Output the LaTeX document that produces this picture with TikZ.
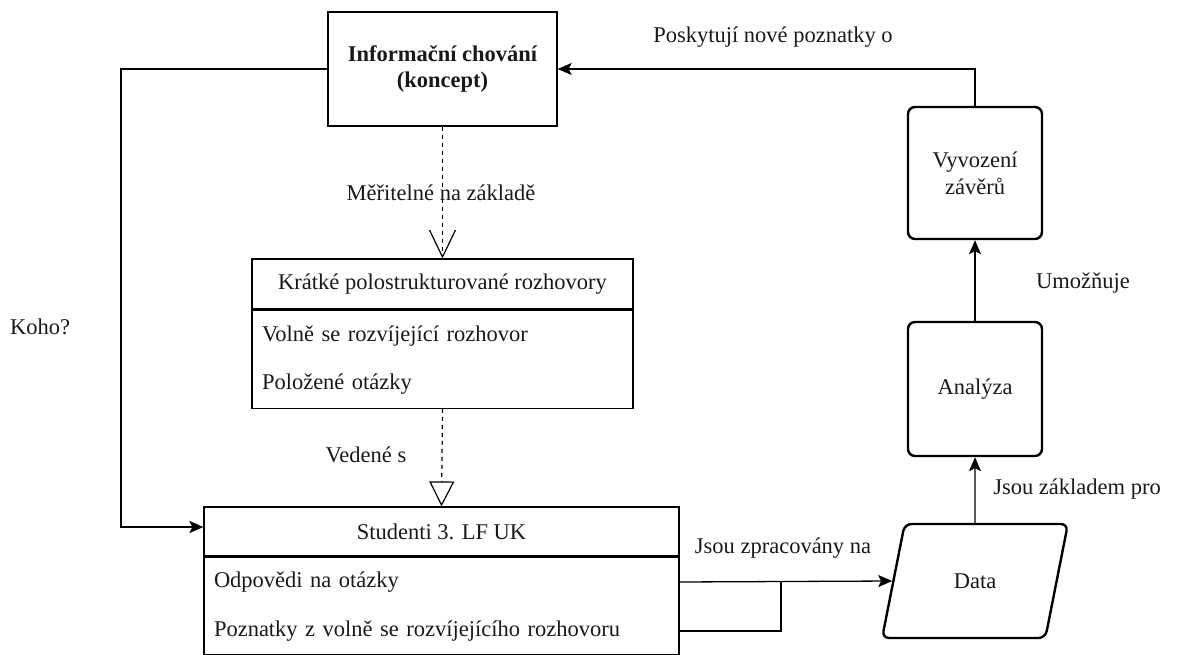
\documentclass[tikz,border=0pt]{standalone}
\usepackage{fontspec}
\setmainfont{LiberationSerif}[Extension=.ttf, UprightFont=*-Regular, BoldFont=*-Bold, ItalicFont=*-Italic, BoldItalicFont=*-BoldItalic]
\usetikzlibrary{arrows.meta,shapes.geometric}
\begin{document}
\begin{tikzpicture}[x=1pt,y=-1pt,
        every node/.style={font=\fontsize{22.5}{27}\selectfont, text=black!90},
        box/.style={draw, line width=1.3pt, minimum width=229pt, minimum height=114pt, align=center},
        rbox/.style={draw, line width=2.4pt, rounded corners=7pt, minimum width=134pt, minimum height=132pt, align=center},
        head/.style={draw, line width=1.2pt},
        row/.style={inner xsep=10pt, inner ysep=0pt, align=left},
        arr/.style={line width=1.3pt, -{Stealth[length=14pt,width=12pt,inset=3pt]}},
        dashedline/.style={line width=1.2pt, dash pattern=on 4pt off 4pt}]
        \useasboundingbox (0,0) rectangle (1177,655);

        % boxes
        \node[box, font=\fontsize{22.5}{26}\selectfont\bfseries] (koncept) at (442.5,69) {Informační chování\\(koncept)};
        \node[rbox] (zavery) at (975,173) {Vyvození\\závěrů};
        \node[rbox, minimum height=134pt] (analyza) at (975,389) {Analýza};
        \node[draw, line width=2.4pt, trapezium, trapezium left angle=70, trapezium right angle=110,
              trapezium stretches=true, minimum width=186pt, minimum height=114pt, rounded corners=7pt] (data) at (975,581) {Data};

        \node[head, minimum width=381pt, minimum height=50pt] (rozhovory) at (442.5,284) {Krátké polostrukturované rozhovory};
        \node[head, minimum width=381pt, minimum height=98pt, anchor=north] (rozhovoryTelo) at (rozhovory.south) {};
        \node[row, text width=361pt] (volne) at (442.5,336) {Volně se rozvíjející rozhovor};
        \node[row, text width=361pt] (otazky) at (442.5,384) {Položené otázky};

        \node[head, minimum width=475pt, minimum height=49pt] (studenti) at (441.5,531.5) {Studenti 3. LF UK};
        \node[head, minimum width=475pt, minimum height=97pt, anchor=north] (studentiTelo) at (studenti.south) {};
        \node[row, text width=455pt] (odpovedi) at (441.5,582) {Odpovědi na otázky};
        \node[row, text width=455pt] (poznatky) at (441.5,631) {Poznatky z volně se rozvíjejícího rozhovoru};

        % connectors
        \coordinate (roh) at (121,69);
        \draw[arr] (koncept.west) -- (roh) |- ([yshift=4.5pt]studenti.west);
        \node (koho) at (40,327) {Koho?};

        \draw[dashedline, -{Straight Barb[length=27pt,width=26pt]}] (koncept.south) -- (rozhovory.north);
        \node (meritelne) at (441,193) {Měřitelné na základě};

        \draw[dashedline, -{Triangle[open,length=25pt,width=25pt]}] (rozhovoryTelo.south) -- (studenti.north);
        \node (vedene) at (366,455) {Vedené s};

        \coordinate (spoj) at (781,582);
        \draw[line width=1.3pt] (poznatky.east) -| (spoj);
        \draw[arr] (odpovedi.east) -- (data.west);
        \node (zpracovany) at (783,548) {Jsou zpracovány na};

        \draw[arr] (data.north) -- (analyza.south);
        \node (zakladem) at (1077,489) {Jsou základem pro};

        \draw[arr] (analyza.north) -- (zavery.south);
        \node (umoznuje) at (1083,283) {Umožňuje};

        \draw[arr] (zavery.north) |- (koncept.east);
        \node (poskytuji) at (773,37) {Poskytují nové poznatky o};
\end{tikzpicture}
\end{document}
